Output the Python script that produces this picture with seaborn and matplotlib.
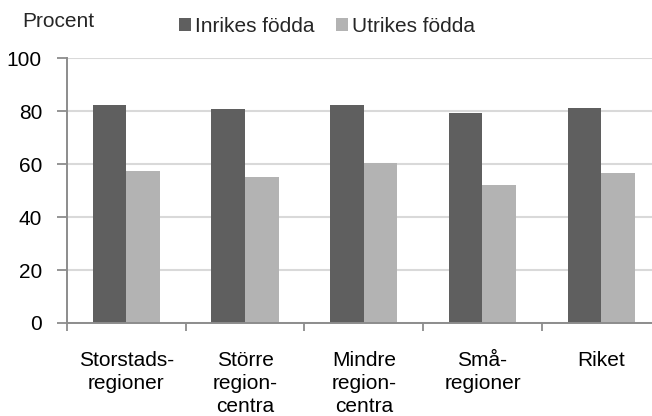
import matplotlib
matplotlib.use("Agg")
import matplotlib.pyplot as plt
import seaborn as sns
import pandas as pd
from matplotlib.patches import Patch

categories = ["Storstads-\nregioner", "Större\nregion-\ncentra", "Mindre\nregion-\ncentra", "Små-\nregioner", "Riket"]
series = ["Inrikes födda", "Utrikes födda"]
inrikes = [82.3, 80.8, 82.4, 79.3, 81.4]
utrikes = [57.5, 55.2, 60.5, 52.2, 56.7]
yticks = [0, 20, 40, 60, 80, 100]

df = pd.DataFrame({
    "Region": categories * 2,
    "Grupp": [series[0]] * len(categories) + [series[1]] * len(categories),
    "Procent": inrikes + utrikes,
})

sns.set_theme(style="white")
plt.rcParams["font.family"] = ["Liberation Sans", "DejaVu Sans"]

FS = 15
colors = ["#5f5f5f", "#b3b3b3"]
W, H = 652, 416
fig = plt.figure(figsize=(W / 100, H / 100), dpi=100)
left = 67 / W
right_px = 660.5
bottom = (H - 323) / H
top = (H - 58.3) / H
ax = fig.add_axes([left, bottom, (right_px - 67) / W, top - bottom])

sns.barplot(data=df, x="Region", y="Procent", hue="Grupp", order=categories,
            hue_order=series, palette=colors, width=0.566, gap=0,
            edgecolor="none", linewidth=0, saturation=1, ax=ax, legend=False)

ax.set_xlim(-0.5, len(categories) - 0.5)
ax.set_ylim(0, 100)
ax.set_yticks(yticks)
ax.set_xlabel("")
ax.set_ylabel("")
ax.set_axisbelow(True)
ax.yaxis.grid(True, color="#d9d9d9", linewidth=1.5)
ax.xaxis.grid(False)

for s in ["top", "right"]:
    ax.spines[s].set_visible(False)
for s in ["left", "bottom"]:
    ax.spines[s].set_color("#8c8c8c")
    ax.spines[s].set_linewidth(1.4)

# category boundary ticks
ax.set_xticks([i - 0.5 for i in range(len(categories) + 1)], minor=True)
ax.tick_params(axis="x", which="minor", direction="out", length=6, width=1.3,
               color="#8c8c8c", bottom=True)
ax.tick_params(axis="x", which="major", length=0, pad=20, labelsize=FS, labelcolor="black")
ax.tick_params(axis="y", direction="out", length=7, width=1.3, color="#8c8c8c",
               left=True, pad=11, labelsize=FS, labelcolor="black")
for lab in ax.get_xticklabels():
    lab.set_linespacing(1.27)
    lab.set_verticalalignment("top")

fig.text(22 / W, 1 - 27 / H, "Procent", fontsize=FS, va="baseline", ha="left")

handles = [Patch(facecolor=c, edgecolor="none") for c in colors]
fig.legend(handles, series, loc="upper left", bbox_to_anchor=(179 / W, 1 - 17 / H),
           ncol=2, frameon=False, fontsize=FS, handlelength=0.58, handleheight=0.58,
           handletextpad=0.2, columnspacing=1.0, borderpad=0, borderaxespad=0)

fig.savefig("out.png", dpi=100)
